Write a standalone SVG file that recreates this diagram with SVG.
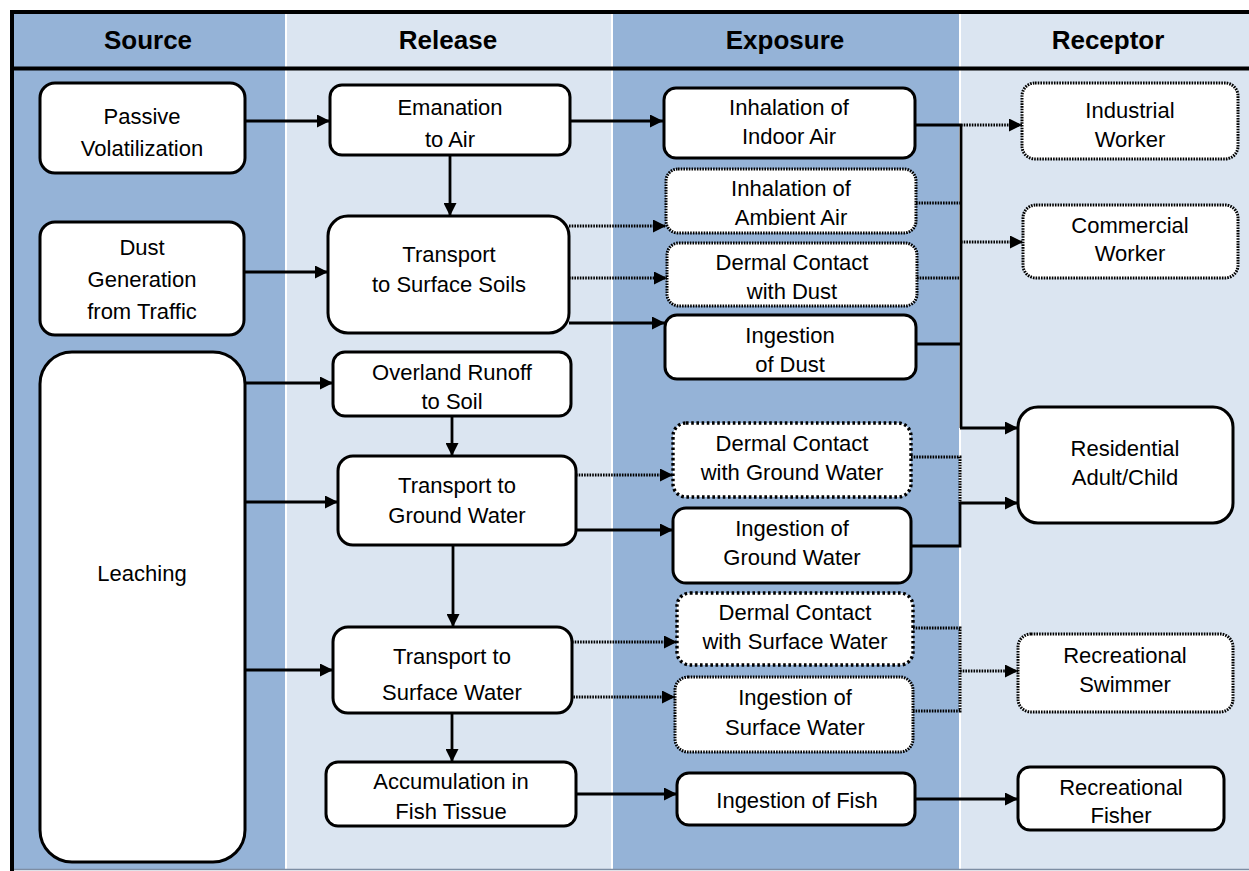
<svg xmlns="http://www.w3.org/2000/svg" width="1249" height="871" viewBox="0 0 1249 871">
<defs>
<marker id="ah" viewBox="0 0 10 10" refX="10" refY="5" markerWidth="15" markerHeight="13" markerUnits="userSpaceOnUse" orient="auto"><path d="M0,0 L10,5 L0,10 z" fill="#000"/></marker>
<style>
.dark{fill:#95B3D7}
.light{fill:#DBE5F1}
.sep{stroke:#fff;stroke-width:2}
.frame{stroke:#000;stroke-width:4;fill:none}
.hdr{font-family:"Liberation Sans",Arial,sans-serif;font-weight:bold;font-size:26px;text-anchor:middle;fill:#000}
.box{fill:#fff;stroke:#000;stroke-width:3}
.dot{stroke-dasharray:1.6 1.1}
.dot2{stroke-dasharray:2.6 2.6;stroke-width:3.4}
text.t{font-family:"Liberation Sans",Arial,sans-serif;font-size:22px;text-anchor:middle;fill:#000}
.c{fill:none;stroke:#000;stroke-width:2.8}
.cd{fill:none;stroke:#000;stroke-width:3;stroke-dasharray:1.6 1.1}
.arr{marker-end:url(#ah)}
</style>
</defs>
<rect width="1249" height="871" fill="#fff"/>
<g id="columns">
<rect class="dark" x="12" y="12" width="274" height="858"/>
<rect class="light" x="286" y="12" width="326" height="858"/>
<rect class="dark" x="612" y="12" width="348" height="858"/>
<rect class="light" x="960" y="12" width="289" height="858"/>
<line class="sep" x1="286" y1="12" x2="286" y2="869"/>
<line class="sep" x1="612" y1="12" x2="612" y2="869"/>
<line class="sep" x1="960" y1="12" x2="960" y2="869"/>
<line x1="12" y1="869.5" x2="1249" y2="869.5" stroke="#7d8da3" stroke-width="1.5"/>
<line class="frame" x1="10" y1="12" x2="1249" y2="12"/>
<line class="frame" x1="10" y1="68.5" x2="1249" y2="68.5"/>
<line class="frame" x1="12" y1="10" x2="12" y2="871"/>
<text class="hdr" x="148" y="49">Source</text>
<text class="hdr" x="448" y="49">Release</text>
<text class="hdr" x="785" y="49">Exposure</text>
<text class="hdr" x="1108" y="49">Receptor</text>
</g>
<g id="connectors">
<path class="c arr" d="M245,121 H330"/>
<path class="c arr" d="M570,121 H663"/>
<path class="c arr" d="M450,155 V216"/>
<path class="c arr" d="M244,272 H328"/>
<path class="cd arr" d="M569,226 H666"/>
<path class="cd arr" d="M569,278 H667"/>
<path class="c arr" d="M569,323 H665"/>
<path class="c arr" d="M245,383 H333"/>
<path class="c arr" d="M452,416 V456"/>
<path class="c arr" d="M245,502 H338"/>
<path class="c arr" d="M453,545 V627"/>
<path class="c arr" d="M245,670 H333"/>
<path class="c arr" d="M452,713 V762"/>
<path class="cd arr" d="M576,475 H673"/>
<path class="c arr" d="M576,530 H673"/>
<path class="cd arr" d="M572,642 H677"/>
<path class="cd arr" d="M568,697 H675"/>
<path class="c arr" d="M576,794 H677"/>
<path class="c arr" d="M915,799 H1018"/>
<path class="c" d="M915,125 H961"/>
<path class="cd arr" d="M961,125 H1022"/>
<path class="c" d="M961,124 V428"/>
<path class="c arr" d="M960,428 H1018"/>
<path class="cd" d="M916,203 H961"/>
<path class="cd" d="M917,278 H961"/>
<path class="cd arr" d="M961,242 H1023"/>
<path class="c" d="M916,344 H961"/>
<path class="cd" d="M911,457 H960 V503"/>
<path class="c" d="M911,546 H960 V502"/>
<path class="c arr" d="M960,503 H1018"/>
<path class="cd" d="M913,628 H960 V711 H913"/>
<path class="cd arr" d="M960,671 H1018"/>
</g>
<g id="passive"><rect class="box" x="40" y="83" width="205" height="90" rx="15"/><text class="t" x="142" y="124">Passive</text><text class="t" x="142" y="156">Volatilization</text></g>
<g id="dust"><rect class="box" x="40" y="222" width="204" height="113" rx="15"/><text class="t" x="142" y="255">Dust</text><text class="t" x="142" y="287">Generation</text><text class="t" x="142" y="319">from Traffic</text></g>
<g id="leaching"><rect class="box" x="40" y="352" width="205" height="510" rx="32"/><text class="t" x="142" y="581">Leaching</text></g>
<g id="emanation"><rect class="box" x="330" y="85" width="240" height="70" rx="12"/><text class="t" x="450" y="115">Emanation</text><text class="t" x="450" y="147">to Air</text></g>
<g id="soils"><rect class="box" x="328" y="216" width="241" height="117" rx="20"/><text class="t" x="449" y="262">Transport</text><text class="t" x="449" y="292">to Surface Soils</text></g>
<g id="overland"><rect class="box" x="333" y="352" width="238" height="64" rx="12"/><text class="t" x="452" y="380">Overland Runoff</text><text class="t" x="452" y="409">to Soil</text></g>
<g id="tgw"><rect class="box" x="338" y="456" width="238" height="89" rx="15"/><text class="t" x="457" y="493">Transport to</text><text class="t" x="457" y="523">Ground Water</text></g>
<g id="tsw"><rect class="box" x="333" y="627" width="239" height="86" rx="15"/><text class="t" x="452" y="664">Transport to</text><text class="t" x="452" y="700">Surface Water</text></g>
<g id="accum"><rect class="box" x="326" y="762" width="250" height="64" rx="12"/><text class="t" x="451" y="789">Accumulation in</text><text class="t" x="451" y="819">Fish Tissue</text></g>
<g id="indoor"><rect class="box" x="664" y="88" width="251" height="70" rx="12"/><text class="t" x="789" y="115">Inhalation of</text><text class="t" x="789" y="144">Indoor Air</text></g>
<g id="ambient"><rect class="box dot" x="666" y="169" width="250" height="64" rx="12"/><text class="t" x="791" y="196">Inhalation of</text><text class="t" x="791" y="225">Ambient Air</text></g>
<g id="dermaldust"><rect class="box dot" x="667" y="243" width="250" height="63" rx="12"/><text class="t" x="792" y="270">Dermal Contact</text><text class="t" x="792" y="299">with Dust</text></g>
<g id="ingdust"><rect class="box" x="665" y="315" width="251" height="64" rx="12"/><text class="t" x="790" y="343">Ingestion</text><text class="t" x="790" y="372">of Dust</text></g>
<g id="dermalgw"><rect class="box dot2" x="673" y="423" width="238" height="74" rx="13"/><text class="t" x="792" y="451">Dermal Contact</text><text class="t" x="792" y="480">with Ground Water</text></g>
<g id="inggw"><rect class="box" x="673" y="508" width="238" height="75" rx="13"/><text class="t" x="792" y="536">Ingestion of</text><text class="t" x="792" y="565">Ground Water</text></g>
<g id="dermalsw"><rect class="box dot2" x="677" y="593" width="236" height="72" rx="13"/><text class="t" x="795" y="620">Dermal Contact</text><text class="t" x="795" y="649">with Surface Water</text></g>
<g id="ingsw"><rect class="box dot" x="675" y="677" width="238" height="75" rx="13"/><text class="t" x="795" y="705">Ingestion of</text><text class="t" x="795" y="735">Surface Water</text></g>
<g id="ingfish"><rect class="box" x="677" y="773" width="238" height="52" rx="12"/><text class="t" x="797" y="808">Ingestion of Fish</text></g>
<g id="industrial"><rect class="box dot" x="1022" y="83" width="216" height="76" rx="13"/><text class="t" x="1130" y="118">Industrial</text><text class="t" x="1130" y="147">Worker</text></g>
<g id="commercial"><rect class="box dot" x="1023" y="205" width="215" height="73" rx="13"/><text class="t" x="1130" y="233">Commercial</text><text class="t" x="1130" y="261">Worker</text></g>
<g id="residential"><rect class="box" x="1018" y="407" width="215" height="116" rx="20"/><text class="t" x="1125" y="456">Residential</text><text class="t" x="1125" y="485">Adult/Child</text></g>
<g id="swimmer"><rect class="box dot" x="1018" y="634" width="215" height="78" rx="13"/><text class="t" x="1125" y="663">Recreational</text><text class="t" x="1125" y="692">Swimmer</text></g>
<g id="fisher"><rect class="box" x="1018" y="767" width="206" height="63" rx="12"/><text class="t" x="1121" y="795">Recreational</text><text class="t" x="1121" y="823">Fisher</text></g>
</svg>
